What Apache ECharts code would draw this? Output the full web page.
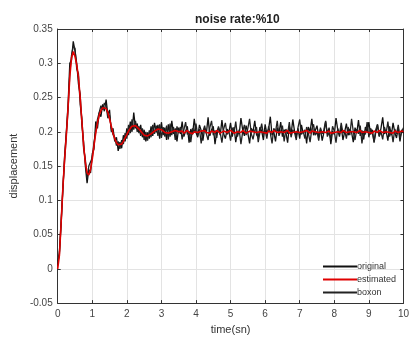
<!DOCTYPE html>
<html><head><meta charset="utf-8">
<script src="https://cdn.jsdelivr.net/npm/echarts@6/dist/echarts.min.js"></script>
<style>html,body{margin:0;padding:0;background:#fff}#c{width:412px;height:340px}</style>
</head><body><div id="c"></div>
<script>
const times = [0,0.05,0.1,0.15,0.2,0.25,0.3,0.35,0.4,0.45,0.5,0.55,0.6,0.65,0.7,0.75,0.8,0.85,0.9,0.95,
1,1.05,1.1,1.15,1.2,1.25,1.3,1.35,1.4,1.45,1.5,1.55,1.6,1.65,1.7,1.75,1.8,1.85,1.9,1.95,
2,2.05,2.1,2.15,2.2,2.25,2.3,2.35,2.4,2.45,2.5,2.55,2.6,2.65,2.7,2.75,2.8,2.85,2.9,2.95,
3,3.05,3.1,3.15,3.2,3.25,3.3,3.35,3.4,3.45,3.5,3.55,3.6,3.65,3.7,3.75,3.8,3.85,3.9,3.95,
4,4.05,4.1,4.15,4.2,4.25,4.3,4.35,4.4,4.45,4.5,4.55,4.6,4.65,4.7,4.75,4.8,4.85,4.9,4.95,
5,5.05,5.1,5.15,5.2,5.25,5.3,5.35,5.4,5.45,5.5,5.55,5.6,5.65,5.7,5.75,5.8,5.85,5.9,5.95,
6,6.05,6.1,6.15,6.2,6.25,6.3,6.35,6.4,6.45,6.5,6.55,6.6,6.65,6.7,6.75,6.8,6.85,6.9,6.95,
7,7.05,7.1,7.15,7.2,7.25,7.3,7.35,7.4,7.45,7.5,7.55,7.6,7.65,7.7,7.75,7.8,7.85,7.9,7.95,
8,8.05,8.1,8.15,8.2,8.25,8.3,8.35,8.4,8.45,8.5,8.55,8.6,8.65,8.7,8.75,8.8,8.85,8.9,8.95,
9,9.05,9.1,9.15,9.2,9.25,9.3,9.35,9.4,9.45,9.5,9.55,9.6,9.65,9.7,9.75,9.8,9.85,9.9,9.95,10];

const original = [0.005,0.025,0.070,0.115,0.165,0.200,0.240,0.300,0.305,0.332,
0.318,0.300,0.270,0.255,0.210,0.185,0.150,0.125,0.145,0.140,
0.168,0.175,0.215,0.205,0.228,0.222,0.240,0.230,0.247,0.225,
0.232,0.200,0.205,0.186,0.192,0.172,0.185,0.176,0.195,0.186,
0.205,0.195,0.215,0.200,0.228,0.205,0.212,0.198,0.210,0.192,
0.203,0.186,0.199,0.190,0.208,0.194,0.213,0.199,0.210,0.190,
0.214,0.195,0.206,0.188,0.211,0.193,0.216,0.197,0.205,0.186,
0.206,0.197,0.215,0.193,0.201,0.208,0.184,0.204,0.196,0.219,
0.199,0.192,0.210,0.202,0.187,0.205,0.198,0.221,0.194,0.203,
0.208,0.182,0.200,0.206,0.195,0.217,0.197,0.190,0.204,0.199,
0.213,0.193,0.207,0.185,0.201,0.197,0.220,0.203,0.194,0.209,
0.198,0.183,0.205,0.200,0.216,0.196,0.192,0.207,0.201,0.188,
0.211,0.197,0.204,0.222,0.195,0.200,0.186,0.206,0.198,0.214,
0.193,0.203,0.199,0.184,0.208,0.196,0.218,0.201,0.194,0.205,
0.190,0.210,0.198,0.203,0.183,0.207,0.200,0.219,0.195,0.202,
0.209,0.192,0.204,0.187,0.199,0.215,0.197,0.206,0.182,0.201,
0.196,0.220,0.203,0.193,0.208,0.188,0.200,0.212,0.195,0.204,
0.199,0.185,0.206,0.198,0.217,0.194,0.202,0.189,0.207,0.200,
0.214,0.196,0.203,0.184,0.199,0.210,0.193,0.205,0.221,0.197,
0.201,0.187,0.208,0.195,0.213,0.199,0.191,0.206,0.186,0.203,
0.198];

const estimated = [0.000,0.020,0.068,0.118,0.160,0.195,0.235,0.280,0.308,0.317,
0.310,0.298,0.280,0.250,0.215,0.180,0.155,0.140,0.137,0.145,
0.160,0.180,0.198,0.213,0.224,0.231,0.235,0.236,0.234,0.228,
0.219,0.208,0.198,0.190,0.184,0.181,0.180,0.182,0.186,0.191,
0.196,0.201,0.205,0.208,0.209,0.209,0.207,0.204,0.201,0.198,
0.195,0.194,0.194,0.195,0.197,0.199,0.201,0.203,0.204,0.204,
0.203,0.201,0.199,0.198,0.198,0.199,0.200,0.201,0.202,0.201,
0.200,0.199,0.201,0.198,0.200,0.202,0.199,0.200,0.197,0.200,
0.201,0.199,0.198,0.201,0.200,0.202,0.199,0.200,0.198,0.201,
0.200,0.199,0.202,0.200,0.198,0.199,0.201,0.200,0.199,0.201,
0.202,0.200,0.198,0.199,0.200,0.201,0.199,0.202,0.200,0.198,
0.200,0.201,0.199,0.200,0.202,0.199,0.198,0.200,0.201,0.199,
0.200,0.198,0.201,0.200,0.199,0.202,0.200,0.199,0.198,0.200,
0.201,0.199,0.200,0.202,0.198,0.200,0.199,0.201,0.200,0.198,
0.199,0.201,0.200,0.199,0.202,0.200,0.198,0.201,0.199,0.200,
0.201,0.199,0.198,0.200,0.202,0.199,0.200,0.201,0.198,0.200,
0.199,0.201,0.200,0.198,0.199,0.202,0.200,0.199,0.201,0.200,
0.198,0.200,0.201,0.199,0.200,0.202,0.199,0.198,0.200,0.201,
0.199,0.200,0.198,0.201,0.200,0.199,0.202,0.200,0.199,0.198,
0.200,0.201,0.199,0.200,0.198,0.201,0.200,0.199,0.200,0.201,
0.200];

const boxon = [0.010,0.022,0.065,0.120,0.158,0.196,0.232,0.285,0.312,0.325,
0.322,0.292,0.285,0.240,0.220,0.175,0.160,0.132,0.150,0.148,
0.162,0.185,0.200,0.218,0.220,0.238,0.232,0.242,0.238,0.220,
0.224,0.205,0.196,0.192,0.180,0.186,0.175,0.188,0.182,0.198,
0.190,0.210,0.198,0.218,0.203,0.216,0.200,0.208,0.194,0.205,
0.188,0.200,0.187,0.202,0.192,0.210,0.197,0.209,0.194,0.211,
0.191,0.207,0.193,0.209,0.189,0.212,0.195,0.207,0.188,0.208,
0.198,0.207,0.189,0.203,0.214,0.196,0.201,0.185,0.205,0.199,
0.212,0.194,0.204,0.183,0.200,0.209,0.197,0.188,0.206,0.216,
0.195,0.202,0.191,0.208,0.199,0.184,0.204,0.213,0.196,0.201,
0.187,0.206,0.198,0.215,0.193,0.203,0.182,0.200,0.210,0.195,
0.205,0.219,0.197,0.189,0.202,0.207,0.185,0.199,0.212,0.196,
0.203,0.190,0.208,0.198,0.183,0.205,0.200,0.216,0.194,0.201,
0.209,0.186,0.204,0.197,0.214,0.192,0.203,0.199,0.188,0.206,
0.218,0.196,0.201,0.190,0.207,0.198,0.185,0.204,0.211,0.195,
0.200,0.187,0.206,0.197,0.203,0.216,0.193,0.199,0.189,0.208,
0.201,0.184,0.205,0.196,0.213,0.198,0.202,0.190,0.207,0.195,
0.219,0.200,0.188,0.204,0.197,0.209,0.183,0.201,0.196,0.214,
0.192,0.205,0.199,0.186,0.203,0.211,0.194,0.200,0.189,0.207,
0.198,0.215,0.193,0.202,0.185,0.204,0.197,0.210,0.191,0.200,
0.206];

const xTicks = {min: 0, max: 10, interval: 1};
const yTicks = {min: -0.05, max: 0.35, interval: 0.05};

const pair = arr => times.map((t, i) => [t, arr[i]]);
const font = 'Liberation Sans, Arial, sans-serif';
const chart = echarts.init(document.getElementById('c'), null, {renderer: 'canvas'});
const fmtY = v => String(parseFloat(v.toFixed(2)));
const edge = {show: true, onZero: false, lineStyle: {color: '#333', width: 1}};
const tick = {show: true, inside: true, length: 3, lineStyle: {color: '#333'}};
chart.setOption({
  animation: false,
  backgroundColor: '#fff',
  title: {text: 'noise rate:%10', left: 190, top: 9,
    textStyle: {fontFamily: font, fontSize: 12, fontWeight: 'bold', color: '#222'}},
  grid: {left: 55, right: 4, top: 29, bottom: 35},
  legend: {
    orient: 'vertical', left: 318, top: 257, itemWidth: 34, itemHeight: 2, itemGap: 4,
    icon: 'rect',
    textStyle: {fontFamily: font, fontSize: 9, color: '#333', padding: [0,0,0,-5]},
    data: ['original', 'estimated', 'boxon']
  },
  xAxis: [{
    type: 'value', min: xTicks.min, max: xTicks.max, interval: xTicks.interval,
    name: 'time(sn)', nameLocation: 'middle', nameGap: 20,
    nameTextStyle: {fontFamily: font, fontSize: 11, color: '#333'},
    axisLine: edge, axisTick: tick,
    axisLabel: {fontFamily: font, fontSize: 10, color: '#444', margin: 6},
    splitLine: {show: true, lineStyle: {color: '#e3e3e3', width: 1}}
  }, {
    type: 'value', position: 'top', min: xTicks.min, max: xTicks.max, interval: xTicks.interval,
    axisLine: edge, axisTick: tick,
    axisLabel: {show: false}, splitLine: {show: false}
  }],
  yAxis: [{
    type: 'value', min: yTicks.min, max: yTicks.max, interval: yTicks.interval,
    name: 'displacement', nameLocation: 'middle', nameGap: 21, nameRotate: 90,
    nameTextStyle: {fontFamily: font, fontSize: 11, color: '#333'},
    axisLine: edge, axisTick: tick,
    axisLabel: {fontFamily: font, fontSize: 10, color: '#444', margin: 5, formatter: fmtY},
    splitLine: {show: true, lineStyle: {color: '#e3e3e3', width: 1}}
  }, {
    type: 'value', position: 'right', min: yTicks.min, max: yTicks.max, interval: yTicks.interval,
    axisLine: edge, axisTick: tick,
    axisLabel: {show: false}, splitLine: {show: false}
  }],
  series: [
    {name: 'original', type: 'line', data: pair(original), showSymbol: false, symbol: 'none',
      lineStyle: {color: '#111', width: 1.3}, itemStyle: {color: '#111'}, z: 2},
    {name: 'boxon', type: 'line', data: pair(boxon), showSymbol: false, symbol: 'none',
      lineStyle: {color: '#222', width: 1.3}, itemStyle: {color: '#222'}, z: 3},
    {name: 'estimated', type: 'line', data: pair(estimated), showSymbol: false, symbol: 'none',
      lineStyle: {color: '#e00000', width: 1.6}, itemStyle: {color: '#e00000'}, z: 4}
  ]
});
</script>
</body></html>
